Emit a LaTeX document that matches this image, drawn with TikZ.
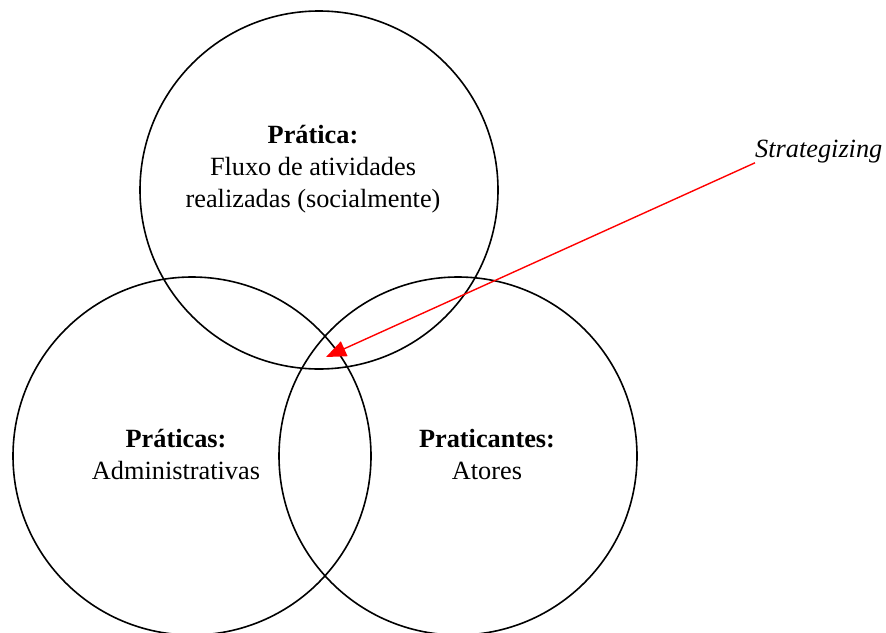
\documentclass[tikz,border=0pt]{standalone}
\usepackage{fontspec}
\setmainfont{Liberation Serif}
\usetikzlibrary{arrows.meta}
\begin{document}
\begin{tikzpicture}[x=1pt,y=-1pt,
  ring/.style={circle,draw=black,line width=1.6pt,minimum size=358pt,inner sep=0pt},
  lbl/.style={align=center,font=\fontsize{26.3}{32}\selectfont,inner sep=0pt},
  strat/.style={draw=red,line width=1.4pt,-{Triangle[length=20pt,width=16pt]},red}]
\useasboundingbox (0,0) rectangle (886,632);
\node[ring] (top) at (319,190) {};
\node[ring] (left) at (192,456) {};
\node[ring] (right) at (458,456) {};
\node[lbl] (ttop) at (313,169) {\textbf{Prática:}\\Fluxo de atividades\\realizadas (socialmente)};
\node[lbl] (tleft) at (176,454) {\textbf{Práticas:}\\Administrativas};
\node[lbl] (tright) at (487,454) {\textbf{Praticantes:}\\Atores};
\node[lbl,anchor=base west,font=\fontsize{26.3}{32}\selectfont\itshape] (sg) at (755,157) {Strategizing};
\coordinate (tip) at (326,357);
\draw[strat] (sg.south west) -- (tip);
\end{tikzpicture}
\end{document}
